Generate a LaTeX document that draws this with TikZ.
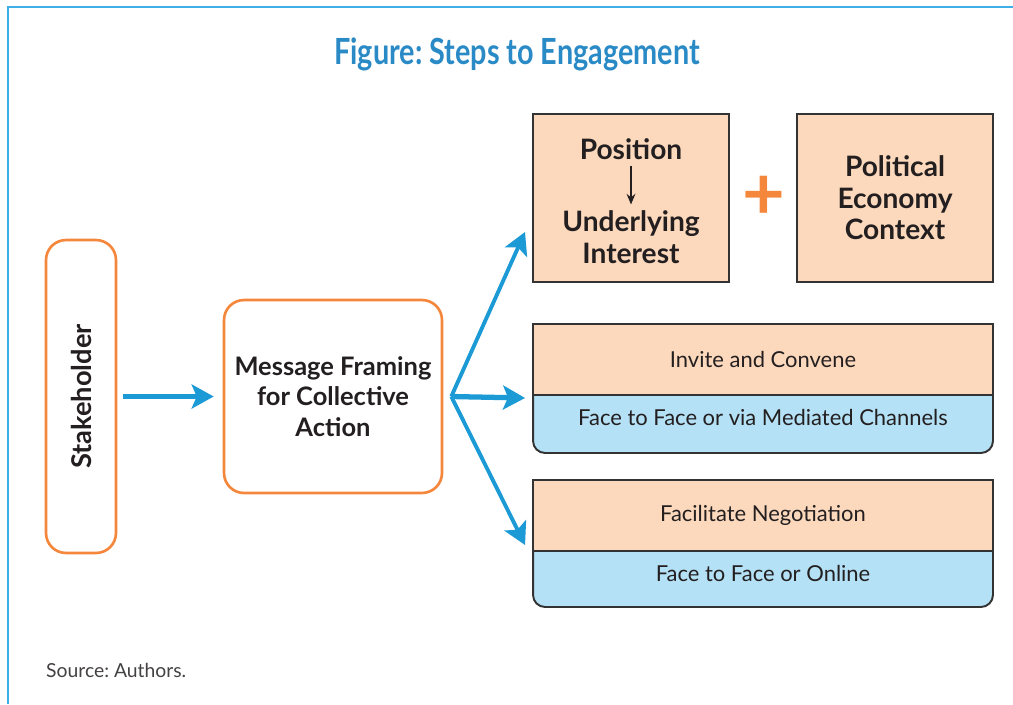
\documentclass[tikz,border=0pt]{standalone}
\usepackage{fontspec}
\setmainfont{Lato}
\usepackage{tikz}
\usetikzlibrary{calc}
\usetikzlibrary{arrows.meta,positioning,backgrounds}
\usepackage{xcolor}

\definecolor{framecol}{HTML}{3DAEE6}
\definecolor{titlecol}{HTML}{2A8AC6}
\definecolor{arrowcol}{HTML}{1B9AD6}
\definecolor{orangecol}{HTML}{F5873C}
\definecolor{peach}{HTML}{FCD9BC}
\definecolor{lightblue}{HTML}{B4E1F5}
\definecolor{edgecol}{HTML}{333333}
\definecolor{inkcol}{HTML}{231F20}

\tikzset{
  roundbox/.style={draw=orangecol, line width=1.5pt, rounded corners=0.4cm, fill=white,
    text=inkcol, font=\bfseries\fontsize{14.5}{17.5}\selectfont, align=center},
  peachbox/.style={draw=edgecol, line width=1.1pt, fill=peach, text=inkcol, align=center, outer sep=0pt},
  bluepart/.style={draw=edgecol, line width=1.1pt, fill=lightblue},
  bigtext/.style={font=\bfseries\fontsize{16}{18}\selectfont, text=inkcol, align=center},
  smalltext/.style={font=\fontsize{12.5}{15}\selectfont, text=inkcol},
  flow/.style={draw=arrowcol, line width=2.2pt, -{Stealth[length=0.44cm, width=0.48cm, inset=0.1cm]}},
}

\begin{document}
\begin{tikzpicture}[x=0.02cm, y=-0.02cm]
    \useasboundingbox (0,0) rectangle (1013,704);

    % Draw the frame and the title
    \draw[framecol, line width=1.4pt] (8,704) -- (8,7) -- (1013,7);
    \node[text=titlecol, font=\bfseries\fontsize{20.5}{24}\selectfont] (title) at (517,54)
        {\scalebox{0.8}[1]{Figure:\ Steps to Engagement}};

    % Draw the two boxes on the left
    \node[roundbox, rotate=90, minimum width=6.26cm, minimum height=1.4cm,
        font=\bfseries\fontsize{15.5}{17}\selectfont] (stake) at (81,396.5) {Stakeholder};
    \node[roundbox, minimum width=4.36cm, minimum height=3.86cm] (msg) at (333,396.5)
        {Message Framing\\for Collective\\Action};
    \draw[flow, line width=3pt, shorten <=0.12cm, shorten >=0.18cm] (stake) -- (msg);

    % Draw the two boxes on top
    \node[peachbox, minimum width=3.92cm, minimum height=3.36cm] (posbox) at (631,198) {};
    \node[bigtext] (posn) at (631,149) {Position};
    \node[bigtext] (interest) at (631,237) {Underlying\\Interest};
    \draw[-{Stealth[length=6pt, width=5pt]}, line width=0.9pt, inkcol] (posn) -- (interest);
    \node[text=orangecol, font=\bfseries\fontsize{42}{42}\selectfont] (plus) at (764,198) {+};
    \node[peachbox, bigtext, minimum width=3.92cm, minimum height=3.36cm] (econ) at (895,198)
        {Political\\Economy\\Context};

    % Draw the two boxes with a blue part below
    \node[peachbox, smalltext, minimum width=9.2cm, minimum height=1.42cm] (invite) at (763,359.5)
        {Invite and Convene};
    \node[smalltext, minimum width=9.2cm, minimum height=1.16cm, outer sep=0pt, text depth=7pt,
        below=0pt of invite] (mediated) {Face to Face or via Mediated Channels};
    \node[peachbox, smalltext, minimum width=9.2cm, minimum height=1.42cm] (negot) at (763,515.5)
        {Facilitate Negotiation};
    \node[smalltext, minimum width=9.2cm, minimum height=1.12cm, outer sep=0pt, text depth=6pt,
        below=0pt of negot] (online) {Face to Face or Online};
    \begin{scope}[on background layer]
        \draw[bluepart, rounded corners=0.24cm] (mediated.north west) -- (mediated.south west)
            -- (mediated.south east) -- (mediated.north east);
        \draw[bluepart, rounded corners=0.24cm] (online.north west) -- (online.south west)
            -- (online.south east) -- (online.north east);
    \end{scope}

    % Draw the arrows out of the fork
    \coordinate (fork) at ([xshift=0.16cm]msg.east);
    \draw[flow] (fork) -- ($(posbox.south west)+(-8,-50)$);
    \draw[flow, line width=3pt] (fork) -- ($(mediated.north west)+(-8,3)$);
    \draw[flow] (fork) -- ($(online.north west)+(-8,-6)$);

    \node[anchor=west, font=\fontsize{11}{13}\selectfont, text=inkcol!85] (source) at (40,670)
        {Source:\ Authors.};
\end{tikzpicture}
\end{document}
